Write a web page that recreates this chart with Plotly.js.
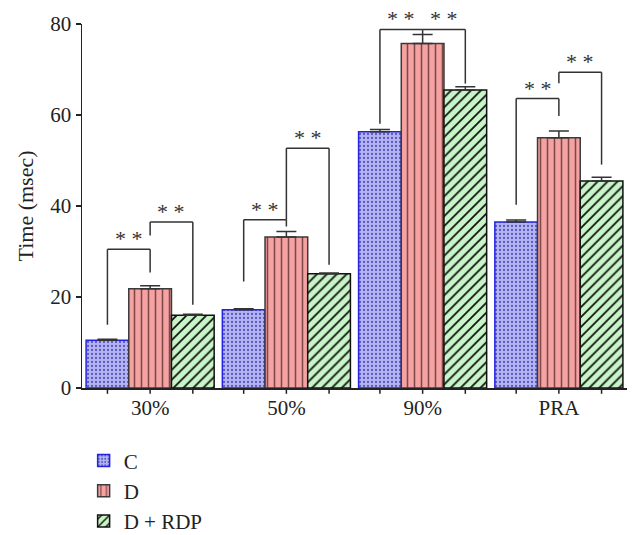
<!DOCTYPE html>
<html>
<head>
<meta charset="utf-8">
<script src="https://cdn.plot.ly/plotly-3.0.1.min.js"></script>
<style>html,body{margin:0;padding:0;background:#fff;}#chart{width:642px;height:535px;}</style>
</head>
<body>
<div id="chart"></div>
<script>
// ---- data ----
const categories = ['30%', '50%', '90%', 'PRA'];
const seriesNames = ['C', 'D', 'D + RDP'];
const cValues = [10.5, 17.2, 56.3, 36.5];
const cErrors = [0.2, 0.2, 0.5, 0.4];
const dValues = [21.8, 33.2, 75.7, 55.0];
const dErrors = [0.7, 1.2, 2.0, 1.5];
const rdpValues = [16.0, 25.1, 65.5, 45.5];
const rdpErrors = [0.2, 0.2, 0.7, 0.8];
const yTickValues = [0, 20, 40, 60, 80];

// significance brackets (category index, from series, to series, leg/top levels)
const bracketCategory = [0, 0, 1, 1, 2, 2, 3, 3];
const bracketFrom = [0, 1, 0, 1, 0, 1, 0, 1];
const bracketTo = [1, 2, 1, 2, 1, 2, 1, 2];
const bracketLeftY = [13.9, 33.5, 23.4, 37.0, 58.1, 78.8, 40.3, 67.0];
const bracketTopY = [30.5, 36.5, 37.0, 52.7, 78.8, 78.8, 63.6, 69.4];
const bracketRightY = [25.4, 18.3, 35.5, 27.1, 77.7, 66.9, 59.8, 49.1];
const bracketLabel = ['* *', '* *', '* *', '* *', '* *', '* *', '* *', '* *'];

// ---- styling ----
const FONT = 'Liberation Serif, Times New Roman, serif';
const bargap = 0.06;
const barW = (1 - bargap) / 3;
const pos = (cat, s) => cat + (s - 1) * barW;

const values = [cValues, dValues, rdpValues];
const errors = [cErrors, dErrors, rdpErrors];
const styles = [
  {bg: '#b4b4f2', fg: '#5858c0', line: '#2424e0', shape: '.', size: 4, sol: 0.25},
  {bg: '#f4a2a2', fg: '#7e4848', line: '#3a3a3a', shape: '|', size: 7, sol: 0.22},
  {bg: '#c8f5c8', fg: '#111111', line: '#111111', shape: '/', size: 7, sol: 0.25}
];

const traces = values.map((v, i) => ({
  type: 'bar',
  name: seriesNames[i],
  x: categories,
  y: v,
  marker: {
    color: styles[i].bg,
    line: {color: styles[i].line, width: 1.5},
    pattern: {shape: styles[i].shape, bgcolor: styles[i].bg, fgcolor: styles[i].fg,
              size: styles[i].size, solidity: styles[i].sol, fillmode: 'replace'}
  },
  error_y: {type: 'data', array: errors[i], arrayminus: errors[i].map(() => 0),
            symmetric: false, color: '#333', thickness: 1.5, width: 10},
  hoverinfo: 'skip'
}));

const shapes = [];
const annotations = [];
const lineStyle = {color: '#333', width: 1.5};
for (let b = 0; b < bracketCategory.length; b++) {
  const x0 = pos(bracketCategory[b], bracketFrom[b]);
  const x1 = pos(bracketCategory[b], bracketTo[b]);
  shapes.push({type: 'line', xref: 'x', yref: 'y', x0: x0, x1: x0, y0: bracketLeftY[b], y1: bracketTopY[b], line: lineStyle});
  shapes.push({type: 'line', xref: 'x', yref: 'y', x0: x0, x1: x1, y0: bracketTopY[b], y1: bracketTopY[b], line: lineStyle});
  shapes.push({type: 'line', xref: 'x', yref: 'y', x0: x1, x1: x1, y0: bracketTopY[b], y1: bracketRightY[b], line: lineStyle});
  annotations.push({xref: 'x', yref: 'y', x: (x0 + x1) / 2, y: bracketTopY[b], text: bracketLabel[b],
    showarrow: false, yanchor: 'bottom', yshift: -4, font: {family: FONT, size: 22, color: '#333'}});
}
// x tick marks under each bar
for (let c = 0; c < categories.length; c++) {
  for (let s = 0; s < 3; s++) {
    shapes.push({type: 'line', xref: 'x', yref: 'paper', x0: pos(c, s), x1: pos(c, s), y0: 0, y1: -0.016,
      line: {color: '#222', width: 1.5}});
  }
}

const layout = {
  width: 642, height: 535,
  margin: {l: 82, r: 15, t: 24, b: 147},
  paper_bgcolor: '#fff', plot_bgcolor: '#fff',
  barmode: 'group', bargap: bargap, bargroupgap: 0,
  font: {family: FONT, size: 21, color: '#222'},
  showlegend: true,
  legend: {orientation: 'v', xref: 'paper', yref: 'container', x: 0.003, xanchor: 'left',
           y: 0.177, yanchor: 'top',
           font: {family: FONT, size: 21, color: '#222'}, tracegroupgap: 0, itemwidth: 30},
  xaxis: {type: 'category', range: [-0.5, 3.5], showline: true, linecolor: '#222', linewidth: 1.5,
          automargin: false,
          ticks: '', showgrid: false, zeroline: false, tickfont: {family: FONT, size: 21, color: '#222'}},
  yaxis: {range: [0, 80], tickvals: yTickValues, showline: true, linecolor: '#222', linewidth: 1.5,
          automargin: false,
          ticks: 'outside', ticklen: 5, tickwidth: 1.5, tickcolor: '#222', showgrid: false, zeroline: false,
          tickfont: {family: FONT, size: 21, color: '#222'},
          title: {text: 'Time (msec)', font: {family: FONT, size: 22, color: '#222'}, standoff: 10}},
  shapes: shapes,
  annotations: annotations
};

Plotly.newPlot('chart', traces, layout, {displayModeBar: false, staticPlot: true});
</script>
</body>
</html>
